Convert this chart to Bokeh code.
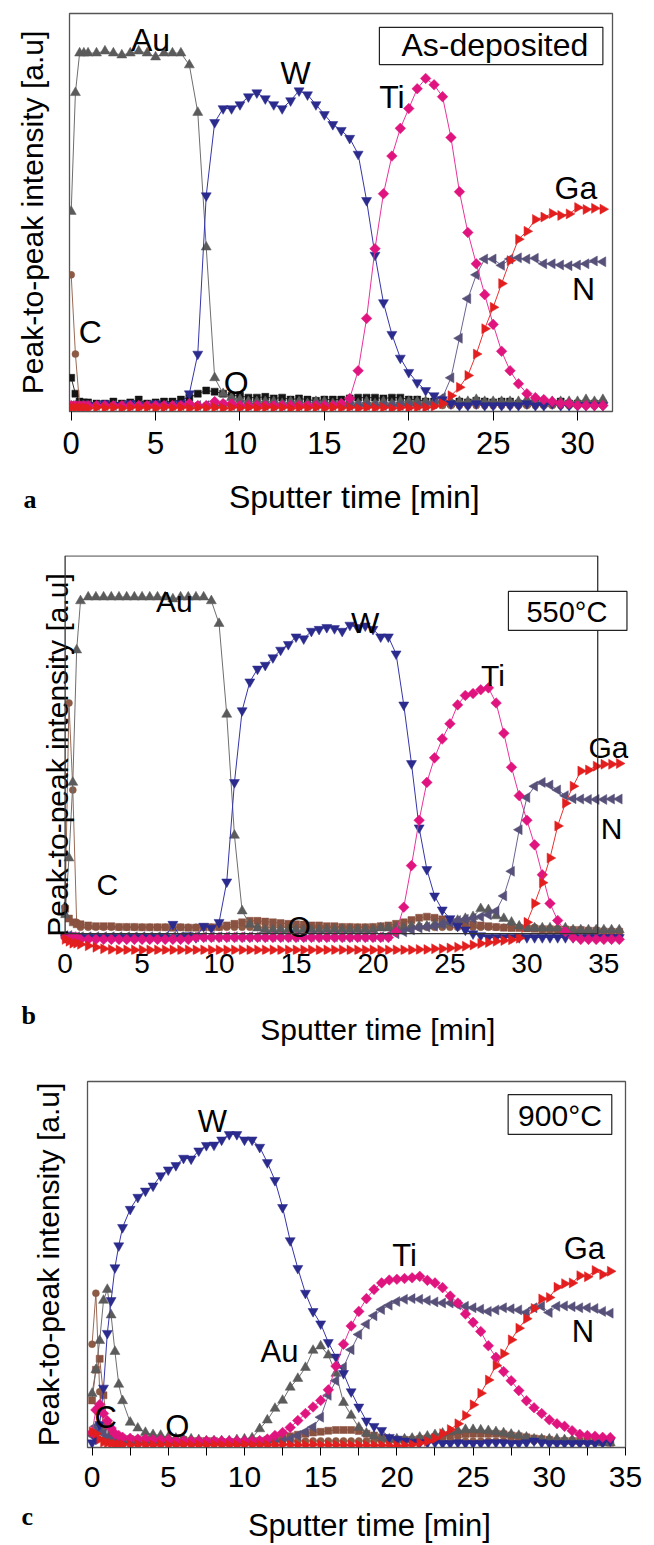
import numpy as np
from bokeh.plotting import figure
from bokeh.models import Range1d, FixedTicker, BoxAnnotation, Label, ColumnDataSource, Title
from bokeh.embed import file_html
from bokeh.resources import INLINE
from bokeh.core.properties import value

FONT = "Liberation Sans"
SERIF = "Liberation Serif"

# ---------------- panel a : as-deposited ----------------
time_a = [0, 0.25, 0.5, 0.75,
          1, 1.5, 2, 2.5, 3, 3.5, 4, 4.5, 5, 5.5,
          6, 6.5, 7, 7.5, 8, 8.5, 9, 9.5, 10, 10.5,
          11, 11.5, 12, 12.5, 13, 13.5, 14, 14.5, 15, 15.5,
          16, 16.5, 17, 17.5, 18, 18.5, 19, 19.5, 20, 20.5,
          21, 21.5, 22, 22.5, 23, 23.5, 24, 24.5, 25, 25.5,
          26, 26.5, 27, 27.5, 28, 28.5, 29, 29.5, 30, 30.5,
          31, 31.5]
au_a = [50, 80, 90, 90,
        90, 90, 90.5, 90, 89.5, 90, 90.5, 90, 89, 90,
        90, 90, 87, 75, 41, 8, 4, 3, 2.5, 2,
        2, 2, 2, 1.5, 2, 2, 1.5, 2, 2, 1.5,
        1.5, 2, 1.5, 2, 1.5, 2, 1.5, 2, 2, 2,
        2, 2, 2.5, 2, 2, 2, 2.5, 2, 2, 2,
        2, 2, 2.5, 2, 2, 2, 2, 2, 2, 2.5,
        2, 2.5]
w_a = [1, 1, 1, 1,
       1, 1, 1.5, 1, 1, 1.5, 1, 1, 1.5, 1,
       1, 1.5, 4, 14, 54, 72.5, 76, 76, 77, 79,
       80, 78.5, 77, 76, 78, 80.5, 79.5, 77, 74.5, 72,
       70.5, 68.5, 64.5, 52.8, 39, 27, 19, 13, 9.4, 6.8,
       4.8, 3.5, 2.5, 1.5, 1, 1, 1.5, 1, 1, 1,
       1, 1, 1.5, 1, 1, 1.5, 1, 1, 1, 1,
       1, 1]
ti_a = [1, 1, 1, 1,
        1, 1, 1, 1, 1, 1, 1, 1, 1, 1,
        1, 1, 1.5, 1, 1, 2, 1.5, 1.5, 1, 1,
        1, 1, 1, 1, 1, 1, 1, 1, 1, 1,
        1.5, 2.8, 9.8, 23, 40.6, 54.5, 64, 71, 76, 81,
        83.6, 82, 79, 68.7, 55, 44.7, 36.8, 29, 21.5, 14.7,
        9.8, 6.5, 4, 3, 2.5, 2, 1.5, 1.5, 1, 1,
        1, 1]
ga_a = [0.5, 0.5, 0.5, 0.5,
        0.3, 0.5, 0.4, 0.5, 0.3, 0.5, 0.4, 0.5, 0.3, 0.5,
        0.4, 0.5, 0.3, 0.5, 0.4, 0.5, 0.3, 0.5, 0.4, 0.5,
        0.3, 0.5, 0.4, 0.5, 0.3, 0.5, 0.4, 0.5, 0.3, 0.5,
        0.4, 0.5, 0.3, 0.5, 0.4, 0.5, 0.3, 0.5, 0.4, 0.5,
        0.5, 0.8, 1.5, 3.5, 5.6, 8.6, 14, 20.4, 25.8, 31.8,
        37.6, 43, 45, 48, 48.6, 49.5, 49, 49.4, 51, 50.5,
        50.8, 50.6]
n_a = [1, 1, 1, 1,
       1, 1, 1, 1, 1, 1, 1, 1, 1, 1,
       1, 1, 1, 1, 1, 1, 1, 1, 1, 1,
       1, 1, 1, 1, 1, 1, 1, 1, 1, 1,
       1, 1, 1, 1, 1, 1, 1, 1, 1, 1,
       1, 1.5, 3, 8, 18, 28, 34, 38, 38, 36.4,
       38, 38.3, 38, 38.2, 36.8, 36.8, 36.5, 36.3, 36.5, 36.8,
       37.5, 37.3]
c_a = [34, 14, 1, 1,
       1, 1, 1, 1, 1, 1, 1, 1, 1, 1,
       1, 1, 1, 1, 1, 1, 1, 1, 1, 1,
       1, 1, 1, 1, 1, 1, 1, 1, 1, 1,
       1, 1, 1, 1, 1, 1, 1, 1, 1, 1,
       1, 1, 1, 1, 1, 1, 1, 1, 1, 1,
       1, 1, 1, 1, 1, 1, 1, 1, 1, 1,
       1, 1]
o_a = [8, 4, 2, 1.8,
       1.8, 1.5, 1.5, 2, 1.5, 1.8, 2.5, 1.5, 1.8, 2,
       2, 2.5, 3, 4, 4.8, 4.5, 4, 3.5, 3.5, 3,
       3, 3.2, 2.8, 3, 2.5, 2.8, 2.5, 2.2, 2.5, 2.5,
       2.5, 2.8, 3, 3, 3, 2.8, 3, 3, 2.5, 2.5,
       2, 2, 1.8, 1.5, 2, 1.8, 2.2, 2, 1.8, 2,
       2, 1.5, 1.5, 1.8, 1.5, 1.5, 2, 1.5, 1.5, 1.5,
       1.5, 1.5]

# ---------------- panel b : 550 C ----------------
time_b = [0, 0.25, 0.5, 0.75,
          1, 1.5, 2, 2.5, 3, 3.5, 4, 4.5, 5, 5.5,
          6, 6.5, 7, 7.5, 8, 8.5, 9, 9.5, 10, 10.5,
          11, 11.5, 12, 12.5, 13, 13.5, 14, 14.5, 15, 15.5,
          16, 16.5, 17, 17.5, 18, 18.5, 19, 19.5, 20, 20.5,
          21, 21.5, 22, 22.5, 23, 23.5, 24, 24.5, 25, 25.5,
          26, 26.5, 27, 27.5, 28, 28.5, 29, 29.5, 30, 30.5,
          31, 31.5, 32, 32.5, 33, 33.5, 34, 34.5, 35, 35.5,
          36]
au_b = [5, 20, 40, 75,
        88, 89, 89, 89, 89, 89, 89, 89, 89, 89,
        89, 89, 88.5, 89, 89, 89, 89, 88, 82, 58,
        26, 6, 2.5, 1.5, 1, 1, 1, 1, 1, 1,
        1, 1, 1, 1, 1, 1, 1, 1, 1, 1.5,
        1.5, 1.5, 1.5, 2, 2, 2, 2.5, 2.5, 3, 3.5,
        4, 4.5, 6.6, 6.3, 4.7, 4, 3, 2, 1.5, 1.5,
        1.5, 1.5, 1.5, 1.5, 1, 1, 1, 1, 1, 1,
        1]
w_b = [-1, -0.5, -1, -1,
       -1, -1, -1, -1, -1, -1, -1, -1, -1, -1,
       -1, -1, 2.5, -1, -0.5, -1, 2, 1.5, 3, 13.7,
       40, 59, 66.6, 70, 71, 73, 75, 76.5, 78.5, 78,
       80, 80.5, 81, 80.7, 80, 81.6, 81, 81.4, 80.5, 78.5,
       78.5, 74, 60.5, 45, 28, 17, 10, 6.3, 4, 2,
       1, 0, -0.5, -1, -1, -1, -1, -1, -1, -1,
       -1, -1, -1, -1, -1, -1, -1, -1, -1, -1,
       -1]
ti_b = [-1, -1, -1, -1,
        -1.5, -1.5, -1.5, -1.5, -1.5, -1.5, -1.5, -1.5, -1.5, -1.5,
        -1.5, -1.5, -1.5, -1.5, -1.5, -1, -1, -1, -1, -1,
        -1, -1, -1, -1, -1, -1, -1, -1, -1, -1,
        -1, -1, -1, -1, -1, -1, -1, -1, -1, -1,
        -1, 0.5, 7, 18, 30, 40, 46.5, 51.5, 55.5, 60.5,
        63, 63.5, 64.5, 65, 61, 53, 44, 36.5, 30, 23.5,
        15.6, 8, 3.5, 0.5, -1, -1.5, -1.5, -1.5, -1.5, -1.5,
        -1.5]
ga_b = [-1.5, -2, -2.5, -2.5,
        -2.8, -3.2, -3.6, -4, -4.2, -4.3, -4.3, -4.3, -4.3, -4.3,
        -4.3, -4.3, -4.3, -4.3, -4.3, -4.3, -4.3, -4.3, -4.3, -4.3,
        -4.3, -4.3, -4.3, -4.3, -4.3, -4.3, -4.3, -4.3, -4.3, -4.3,
        -4.3, -4.3, -4.3, -4.3, -4.3, -4.3, -4.3, -4.3, -4.3, -4.3,
        -4.3, -4.3, -4.3, -4.3, -4.2, -4.2, -4, -4, -3.8, -3.6,
        -3.3, -3, -2.6, -2.3, -2, -1.8, -1.6, -1.2, 3, 8,
        13.5, 20, 28.5, 34.5, 39, 43, 43.3, 44.3, 44.8, 44.8,
        45]
n_b = [-0.5, -0.5, -0.8, -0.8,
       -0.8, -0.8, -0.8, -0.8, -0.8, -0.8, -0.8, -0.8, -0.8, -0.8,
       -0.8, -0.8, -0.8, -0.8, -0.8, -0.8, -0.8, -0.8, -0.8, -0.8,
       -0.8, -0.8, -0.8, -0.8, -0.8, -0.8, -0.8, -0.8, -0.8, -0.8,
       -0.8, -0.8, -0.8, -0.8, -0.8, -0.8, -0.8, -0.8, -0.8, -0.8,
       -0.5, 0, 0.5, 1, 1.5, 1.8, 2, 2.5, 3, 3.5,
       3.8, 4, 4.5, 5, 6, 10, 16.5, 27.5, 36, 39,
       40, 39.3, 38, 36.5, 35.7, 35.6, 35.5, 35.5, 35.5, 35.6,
       35.6]
c_b = [7, 61, 38, 3,
       1.7, 1.7, 1.7, 1.7, 1.7, 1.7, 1.7, 1.7, 1.7, 1.7,
       1.7, 1.7, 1.7, 1.7, 1.7, 1.7, 1.7, 1.7, 1.7, 1.7,
       1.7, 1.7, 1.7, 1.7, 1.7, 1.7, 1.7, 1.7, 1.7, 1.7,
       1.7, 1.7, 1.7, 1.7, 1.7, 1.7, 1.7, 1.7, 1.7, 1.7,
       1.7, 1.7, 1.7, 1.7, 1.7, 1.7, 1.7, 1.7, 1.7, 1.7,
       1.7, 1.7, 1.7, 1.7, 1.7, 1.7, 1.7, 1.7, 1.7, 1.7,
       1.2, 1.2, 1.2, 1.2, 1, 1, 0.8, 0.8, 0.6, 0.5,
       0.5]
o_b = [6.6, 4, 3, 2.5,
       2.5, 2.2, 2, 2, 2, 1.8, 1.8, 1.8, 1.7, 1.7,
       1.7, 1.7, 1.6, 1.7, 1.6, 1.6, 1.7, 1.7, 1.8, 2.2,
       2.6, 3, 3.4, 3.4, 3.2, 3, 2.8, 2.6, 2.5, 2.4,
       2.2, 2.2, 2, 2, 1.8, 1.8, 1.7, 1.7, 1.8, 2,
       2.2, 2.6, 3, 3.6, 4.2, 4.5, 4.2, 3.8, 3.4, 3,
       2.6, 2.4, 2.2, 2, 1.8, 1.6, 1.5, 1.5, 1.4, 1.3,
       1.2, 1.2, 1.1, 1.1, 1, 1, 0.8, 0.8, 0.6, 0.5,
       0.5]

# ---------------- panel c : 900 C ----------------
time_c = [0, 0.25, 0.5, 0.75, 1, 1.25, 1.5, 1.75,
          2, 2.5, 3, 3.5, 4, 4.5, 5, 5.5, 6, 6.5,
          7, 7.5, 8, 8.5, 9, 9.5, 10, 10.5, 11, 11.5,
          12, 12.5, 13, 13.5, 14, 14.5, 15, 15.5, 16, 16.5,
          17, 17.5, 18, 18.5, 19, 19.5, 20, 20.5, 21, 21.5,
          22, 22.5, 23, 23.5, 24, 24.5, 25, 25.5, 26, 26.5,
          27, 27.5, 28, 28.5, 29, 29.5, 30, 30.5, 31, 31.5,
          32, 32.5, 33, 33.5, 34]
w_c = [1, 2, 6, 16, 31, 40, 49, 55,
       60, 65, 68.3, 70, 71.4, 74.2, 75.8, 77, 79, 78.8,
       81, 82.5, 82.6, 84, 85.5, 85.5, 84, 84, 82, 77.8,
       72.9, 65.5, 56.4, 48.8, 42, 37, 33.6, 28.5, 24.5, 20,
       15, 10.8, 7, 5.5, 4.4, 2.5, 2, 1.5, 1.2, 1,
       1, 1, 0.8, 0.8, 1, 0.8, 0.8, 0.8, 1, 1,
       1, 0.8, 0.8, 1, 1.5, 1, 0.8, 0.8, 0.8, 0.8,
       0.8, 0.8, 0.8, 1, 1.5]
au_c = [14.5, 21, 29, 40, 43, 36, 26, 17,
        12.5, 6.6, 5, 3.8, 3.2, 3, 2.5, 2.2, 2, 2,
        1.8, 1.5, 1.5, 1.5, 1.5, 1.8, 2, 2.3, 4.8, 7.2,
        10.4, 12.6, 16.2, 18.6, 21.6, 26.3, 27.5, 25, 20, 12,
        8.5, 5.2, 3.6, 2.8, 2.3, 2, 2, 2, 2.2, 2.5,
        2.8, 3.2, 3.6, 4, 4.3, 4.6, 4.6, 4.5, 4.3, 4,
        3.7, 3.3, 3, 2.5, 2, 2, 2, 2, 1.8, 1.8,
        1.5, 1.5, 1.3, 1, 1]
ti_c = [3.8, 10, 11.5, 9, 7, 5, 3.5, 3,
        2.5, 2.2, 2, 2, 1.8, 1.8, 1.8, 1.5, 1.5, 1.5,
        1.5, 1.5, 1.5, 1.5, 1.5, 1.5, 1.5, 1.5, 1.6, 2,
        3, 3.8, 5.2, 7.1, 9, 10.8, 12.6, 15.5, 22, 28,
        33, 37, 40.5, 43, 44.8, 45.6, 45.8, 46, 46.2, 46.6,
        45.5, 44.8, 43.5, 41.2, 39.3, 36.3, 34, 31.5, 27.6, 24.4,
        20.5, 18, 15.3, 12.5, 10.6, 9, 7.3, 6.2, 5.5, 4.3,
        3.3, 3, 2.8, 2.5, 2.4]
n_c = [3, 5.5, 4.5, 3.5, 2.5, 2, 1.5, 1.2,
       1, 1, 0.8, 0.8, 0.8, 0.8, 0.8, 0.8, 0.8, 0.8,
       0.8, 0.8, 0.8, 0.8, 0.8, 0.8, 0.8, 0.8, 1, 1,
       1.2, 1.5, 2, 3, 4, 5.3, 8, 14, 18, 21.7,
       26.5, 30.7, 33.5, 35.8, 37.5, 38.7, 39.7, 40.3, 40.5, 40.3,
       40, 39.6, 39.3, 39.3, 38.8, 38.4, 38, 37.6, 37, 37.4,
       38, 37.7, 37.4, 36.7, 38, 38.4, 36.7, 38.4, 38.5, 38.3,
       38, 38, 37.8, 37, 36.5]
ga_c = [4, 3.5, 2, 1.2, 1, 0.8, 0.6, 0.5,
        0.5, 0.4, 0.5, 0.4, 0.4, 0.5, 0.4, 0.4, 0.5, 0.4,
        0.4, 0.4, 0.5, 0.4, 0.4, 0.4, 0.5, 0.4, 0.4, 0.4,
        0.4, 0.5, 0.4, 0.4, 0.4, 0.5, 0.4, 0.4, 0.4, 0.4,
        0.3, 0.3, 0.3, 0.3, 0.3, 0.2, 0.2, 0.3, 0.5, 0.9,
        1.4, 2.2, 3.5, 4.6, 6.2, 8.5, 11.4, 14.6, 18.2, 22.2,
        25.4, 29.2, 32.4, 35, 37.8, 40.4, 40.8, 43.6, 44.6, 44.8,
        46.8, 46.5, 48.2, 47.1, 48]
c_c = [28, 42, 15, 5, 2.5, 2, 1.5, 1.5,
       1.5, 1.5, 1.5, 1.5, 1.2, 1.2, 1.2, 1.2, 1.2, 1.2,
       1.2, 1.2, 1.2, 1.2, 1.2, 1.2, 1.2, 1.2, 1.2, 1.2,
       1.5, 1.5, 1.5, 1.5, 1.5, 1.5, 1.5, 1.5, 1.5, 1.5,
       1.5, 1.5, 1.5, 1.5, 1.5, 1.5, 1.5, 1.5, 1.5, 1.5,
       1.5, 1.5, 1.5, 1.5, 1.5, 1.5, 1.5, 1.5, 1.5, 1.5,
       1.5, 1.5, 1.5, 1.5, 1.5, 1.5, 1.5, 1.5, 1.5, 1.5,
       1.2, 1.2, 1.2, 1, 1]
o_c = [12.6, 21, 24, 14, 6, 3.5, 2.5, 2.2,
       2.2, 2, 1.8, 1.8, 1.5, 1.5, 1.5, 1.5, 1.8, 1.5,
       1.5, 1.5, 1.5, 1.2, 1.2, 1.2, 1.2, 1.5, 1.5, 1.8,
       2, 2.5, 2.8, 3.2, 3.5, 3.8, 4, 4.3, 4.5, 4.5,
       4.5, 4.2, 3.5, 3, 2.5, 2, 1.8, 1.8, 1.8, 2,
       2.2, 2.5, 2.8, 3, 3.2, 3.4, 3.5, 3.5, 3.5, 3.5,
       3.3, 3, 2.8, 2.5, 2.2, 2, 1.8, 1.5, 1.5, 1.5,
       1.5, 1.5, 1.5, 1.2, 1]

# ---------------- text ----------------
species = ["Au", "W", "Ti", "Ga", "N", "C", "O"]
lab_a_x = [4.7, 13.3, 19.0, 29.9, 30.35, 1.13, 9.78]
lab_a_y = [93.2, 85.0, 78.8, 56.0, 30.5, 19.5, 6.8]
lab_b_x = [7.1, 19.5, 27.8, 35.3, 35.5, 2.75, 15.2]
lab_b_y = [87.8, 82.3, 68.3, 49.2, 27.8, 13.0, 1.9]
lab_c_x = [12.3, 7.9, 20.5, 32.3, 32.2, 0.9, 5.6]
lab_c_y = [26.0, 89.0, 52.3, 54.2, 31.5, 7.9, 5.5]
panel_titles = ["As-deposited", "550°C", "900°C"]
panel_letters = ["a", "b", "c"]
x_title = "Sputter time [min]"
y_title = "Peak-to-peak intensity [a.u]"
ticks_a = [0, 5, 10, 15, 20, 25, 30]
ticks_bc = [0, 5, 10, 15, 20, 25, 30, 35]
minor_c = [2.5, 7.5, 12.5, 17.5, 22.5, 27.5, 32.5]

COL = {"Au": "#5b5b5b", "W": "#2b2b8e", "Ti": "#e0147e", "Ga": "#e31e1e",
       "N": "#575079", "C": "#8c5a45", "O_a": "#141414", "O": "#8a5240"}
LCOL = {"Au": "#6e6e6e", "W": "#3535a8", "Ti": "#e8339a", "Ga": "#e63232",
        "N": "#6a6490", "C": "#9a6a55", "O_a": "#333333", "O": "#9a6250"}
STYLE = {"Au": ("triangle", 0.0, 10), "W": ("inverted_triangle", 0.0, 10),
         "Ti": ("square", np.pi / 4, 7.5), "Ga": ("triangle", -np.pi / 2, 10),
         "N": ("triangle", np.pi / 2, 10), "C": ("circle", 0.0, 7),
         "O": ("square", 0.0, 7), "O_a": ("square", 0.0, 7)}

NBSP = "\u00a0"


def base_fig(w, h, xr, yr, bl, br, bt, bb):
    p = figure(width=w, height=h, x_range=Range1d(*xr), y_range=Range1d(*yr),
               output_backend="svg", toolbar_location=None,
               min_border_left=bl, min_border_right=br,
               min_border_top=bt, min_border_bottom=bb)
    p.xgrid.visible = False
    p.ygrid.visible = False
    p.background_fill_color = "white"
    p.border_fill_color = "white"
    p.yaxis.ticker = FixedTicker(ticks=[])
    p.yaxis.axis_line_color = None
    p.yaxis.major_tick_out = 0
    p.yaxis.major_tick_in = 0
    p.yaxis.minor_tick_out = 0
    p.yaxis.minor_tick_in = 0
    p.yaxis.major_label_standoff = 0
    p.yaxis.axis_label = y_title
    p.yaxis.axis_label_text_font = FONT
    p.yaxis.axis_label_text_font_style = "normal"
    p.yaxis.axis_label_text_font_size = "30px"
    p.yaxis.axis_label_text_color = "black"
    p.xaxis.major_label_text_font = FONT
    p.xaxis.major_label_text_color = "black"
    p.xaxis.major_tick_in = 0
    p.xaxis.major_tick_line_color = "black"
    p.xaxis.minor_tick_line_color = "black"
    p.xaxis.axis_label_text_font = FONT
    p.xaxis.axis_label_text_font_style = "normal"
    p.xaxis.axis_label_text_color = "black"
    return p


def add_series(p, t, series):
    for key, ys in series:
        marker, angle, size = STYLE[key]
        assert len(ys) == len(t), (key, len(ys), len(t))
        src = ColumnDataSource(dict(t=t, y=ys))
        p.line("t", "y", source=src, line_color=LCOL[key], line_width=1)
        p.scatter("t", "y", source=src, marker=marker, angle=angle, size=size,
                  fill_color=COL[key], line_color=COL[key], line_width=0.5)


def add_texts(p, xs, ys, size):
    src = ColumnDataSource(dict(x=xs, y=ys, text=species))
    p.text("x", "y", text="text", source=src, text_font=value(FONT),
           text_font_size=value(size), text_color="black",
           text_align="center", text_baseline="middle")


def add_letter(p, letter, offset, standoff):
    p.add_layout(Title(text=letter, align="left", vertical_align="top",
                       offset=offset, standoff=standoff,
                       text_font=SERIF, text_font_style="bold",
                       text_font_size="26px", text_color="black"), "below")


def add_box(p, left, right, bottom, top, text, tx, ty, size):
    p.add_layout(BoxAnnotation(left=left, right=right, bottom=bottom, top=top,
                               fill_color="white", fill_alpha=1.0,
                               line_color="#222222", line_alpha=1.0,
                               line_width=1.2, level="annotation"))
    p.add_layout(Label(x=tx, y=ty, text=text, text_font=FONT, text_font_size=size,
                       text_align="center", text_baseline="middle", text_color="black"))


W = 650

# ---- panel a ----
pa = base_fig(W, 540, (-0.1, 32.07), (-0.5, 100.0), 69, 38, 13, 129)
pa.outline_line_color = "#555555"
pa.outline_line_width = 1.3
pa.xaxis.ticker = FixedTicker(ticks=ticks_a, minor_ticks=[])
pa.xaxis.axis_line_color = "#555555"
pa.xaxis.major_tick_out = 9
pa.xaxis.major_label_standoff = 11
pa.xaxis.major_label_text_font_size = "31px"
pa.xaxis.axis_label = NBSP * 3 + x_title
pa.xaxis.axis_label_text_font_size = "32px"
pa.xaxis.axis_label_standoff = 22
pa.yaxis.axis_label_standoff = 21
add_series(pa, time_a, [("O_a", o_a), ("C", c_a), ("Au", au_a), ("N", n_a),
                        ("W", w_a), ("Ti", ti_a), ("Ga", ga_a)])
add_texts(pa, lab_a_x, lab_a_y, "32px")
add_box(pa, 18.26, 31.5, 87.1, 96.5, panel_titles[0], 25.1, 92.0, "32px")
add_letter(pa, panel_letters[0], -46, -66)

# ---- panel b ----
pb = base_fig(W, 515, (-0.3, 36.6), (-5.5, 100.0), 60, 22, 15, 101)
pb.outline_line_color = None
pb.xaxis.ticker = FixedTicker(ticks=ticks_bc, minor_ticks=[])
pb.xaxis.axis_line_color = None
pb.xaxis.major_tick_out = 0
pb.xaxis.major_tick_line_color = None
pb.xaxis.major_label_standoff = -1
pb.xaxis.major_label_text_font_size = "28px"
pb.xaxis.axis_label = NBSP * 8 + x_title
pb.xaxis.axis_label_text_font_size = "30px"
pb.xaxis.axis_label_standoff = 37
pb.yaxis.axis_label_standoff = -13
pb.add_layout(BoxAnnotation(left=0, right=34.6, bottom=0, top=99.9,
                            fill_alpha=0, line_color="#333333", line_alpha=1.0,
                            line_width=1.3))
add_series(pb, time_b, [("C", c_b), ("O", o_b), ("Au", au_b), ("N", n_b),
                        ("W", w_b), ("Ti", ti_b), ("Ga", ga_b)])
add_texts(pb, lab_b_x, lab_b_y, "30px")
add_box(pb, 28.8, 36.5, 80.2, 90.5, panel_titles[1], 32.6, 85.0, "29px")
add_letter(pb, panel_letters[1], -39, -96)

# ---- panel c ----
pc = base_fig(W, 490, (-0.3, 35.0), (-0.3, 100.0), 87, 25, 26, 98)
pc.outline_line_color = "#555555"
pc.outline_line_width = 1.3
pc.xaxis.ticker = FixedTicker(ticks=ticks_bc, minor_ticks=minor_c)
pc.xaxis.axis_line_color = "#555555"
pc.xaxis.major_tick_out = 8
pc.xaxis.minor_tick_out = 8
pc.xaxis.minor_tick_in = 0
pc.xaxis.major_label_standoff = 11
pc.xaxis.major_label_text_font_size = "30px"
pc.xaxis.axis_label = NBSP * 3 + x_title
pc.xaxis.axis_label_text_font_size = "31px"
pc.xaxis.axis_label_standoff = 18
pc.yaxis.axis_label_standoff = 23
add_series(pc, time_c, [("C", c_c), ("O", o_c), ("Au", au_c), ("N", n_c),
                        ("W", w_c), ("Ti", ti_c), ("Ga", ga_c)])
add_texts(pc, lab_c_x, lab_c_y, "31px")
add_box(pc, 27.3, 34.1, 85.5, 96.4, panel_titles[2], 30.7, 90.8, "30px")
add_letter(pc, panel_letters[2], -66, -88)

open("out.html", "w").write(file_html([pa, pb, pc], INLINE, title="AES depth profiles"))
